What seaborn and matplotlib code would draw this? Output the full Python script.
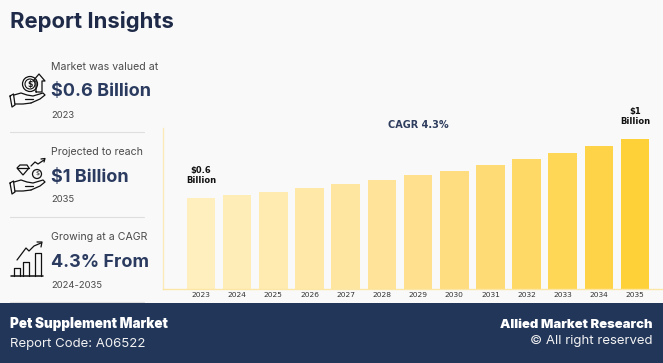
import matplotlib
matplotlib.use('Agg')
import matplotlib.pyplot as plt
from matplotlib.patches import Rectangle, Circle, Polygon
import pandas as pd
import seaborn as sns

years = ['2023','2024','2025','2026','2027','2028','2029','2030','2031','2032','2033','2034','2035']
values = [0.607,0.625,0.647,0.673,0.70,0.727,0.758,0.789,0.825,0.865,0.905,0.95,1.0]
bar_colors = ['#FFEEBE','#FFEDB8','#FFEAB0','#FFE8A8','#FEE6A0','#FEE398','#FEE08E','#FEDD80','#FEDB74','#FED966','#FED757','#FED348','#FED139']
bar_labels = {'2023':'$0.6\nBillion','2035':'$1\nBillion'}
cagr_text = 'CAGR 4.3%'

insight_top = ['Market was valued at','Projected to reach','Growing at a CAGR']
insight_big = ['$0.6 Billion','$1 Billion','4.3% From']
insight_low = ['2023','2035','2024-2035']

BG = '#F9F9FA'
NAVY = '#22365A'
TEXT = '#4A4A4A'
HEAD = '#1E2A47'

sns.set_theme(style='white')
plt.rcParams['font.family'] = ['Inter','DejaVu Sans']

fig = plt.figure(figsize=(6.63,3.63), dpi=100, facecolor=BG)

# chart axes, placed in pixels
W, H = 663, 363
ax = fig.add_axes([163/W, 1-288.7/H, 500/W, (288.7-128)/H], facecolor=BG)
df = pd.DataFrame({'year':years,'value':values})
sns.barplot(data=df, x='year', y='value', hue='year', palette=bar_colors, legend=False,
            width=0.79, saturation=1, linewidth=0, edgecolor='none', ax=ax)
ax.set_xlim(-1.05,12.77)
ax.set_ylim(0,160.7/149.7)
ax.set_xlabel('')
ax.set_ylabel('')
ax.set_yticks([])
ax.tick_params(axis='x', length=0, pad=2.5, labelsize=5.4, labelcolor='#333333')
for lab in ax.get_xticklabels():
    lab.set_family('DejaVu Sans')
sns.despine(ax=ax)
ax.spines['left'].set_color('#FBEBB8')
ax.spines['bottom'].set_color('#FBE6A6')
ax.spines['left'].set_linewidth(1)
ax.spines['bottom'].set_linewidth(1)
for i, y in enumerate(years):
    if y in bar_labels:
        ax.annotate(bar_labels[y], (i, values[i]), xytext=(0,9.5), textcoords='offset points',
                    ha='center', va='bottom', fontsize=6, fontweight='bold', color='#111111',
                    family='DejaVu Sans', linespacing=1.05, annotation_clip=False)

# overlay in pixel coordinates for side panel, footer and icons
ov = fig.add_axes([0,0,1,1], facecolor='none')
ov.set_xlim(0,W)
ov.set_ylim(H,0)
ov.axis('off')

ov.text(418,124.5,cagr_text,ha='center',va='center',fontsize=7,fontweight='bold',color='#2F3E5E',family='DejaVu Sans')
ov.text(10,22,'Report Insights',ha='left',va='center',fontsize=15.9,fontweight='bold',color=HEAD)

ys_top = [67,152,237]
ys_big = [92,177,262.5]
ys_low = [115,200,285.5]
for top, big, low, y1, y2, y3 in zip(insight_top,insight_big,insight_low,ys_top,ys_big,ys_low):
    ov.text(51,y1,top,ha='left',va='center',fontsize=7.6,color=TEXT)
    ov.text(51,y2,big,ha='left',va='center',fontsize=13,fontweight='bold',color='#2A3B5F')
    ov.text(51,y3,low,ha='left',va='center',fontsize=6.8,color=TEXT)
for y in [132,217,302]:
    ov.plot([10,144],[y,y],color='#DEDEDE',lw=0.8)

ov.add_patch(Rectangle((0,303),W,60,color=NAVY,lw=0,zorder=3))
ov.text(10,324,'Pet Supplement Market',ha='left',va='center',fontsize=9.7,fontweight='black',color='white',zorder=4)
ov.text(10,344,'Report Code: A06522',ha='left',va='center',fontsize=9.5,color='#F2F2F2',zorder=4)
ov.text(653,324.5,'Allied Market Research',ha='right',va='center',fontsize=9.4,fontweight='black',color='white',zorder=4)
ov.text(653,341,'© All right reserved',ha='right',va='center',fontsize=9.5,color='#F2F2F2',zorder=4)

# icons
k = dict(color='#111111',lw=0.9,solid_capstyle='round')
def hand(x,y):
    ov.plot([x,x+3.5,x+5,x+2,x],[y,y-2,y+9,y+11,y],**k)
    ov.plot([x+4,x+11,x+17,x+23,x+33,x+35,x+30,x+21],[y-1,y-3,y-1,y,y-3,y-1,y+3,y+7],**k)
    ov.plot([x+21,x+13,x+5],[y+7,y+8,y+8],**k)
    ov.plot([x+15,x+23],[y+2.5,y+2.5],**k)

# coin and arrow
hand(10,96)
ov.add_patch(Circle((30,84),7.5,fill=False,ec='#111111',lw=0.9))
ov.add_patch(Circle((30,84),5,fill=False,ec='#111111',lw=0.8))
ov.text(30,84,'$',ha='center',va='center',fontsize=5.5,fontweight='bold',color='#111111',family='DejaVu Sans')
ov.plot([36,36,33,39,45,42,42,36],[92,81,81,74,81,81,92,92],**k)

# gems and trend
hand(10,183)
ov.add_patch(Polygon([(17,168),(20,165),(27,165),(29,168),(23,175)],fill=False,ec='#111111',lw=0.9))
ov.plot([17,29],[168,168],**k)
ov.add_patch(Circle((37,174),4.5,fill=False,ec='#111111',lw=0.9))
ov.text(37,174,'$',ha='center',va='center',fontsize=4.5,color='#111111',family='DejaVu Sans')
ov.plot([31,35,38,44],[166,162,164,160],**k)
ov.plot([41,45,44],[159,158.5,162],**k)

# growth chart
ov.plot([11,43],[276,276],color='#111111',lw=1.1)
for x0, top in [(14,268),(23,262),(35,253)]:
    wd = 6 if x0<30 else 5.5
    ov.plot([x0,x0,x0+wd,x0+wd],[276,top,top,276],**k)
ov.plot([17,26,29,34,41],[260,248,251,246,243],**k)
ov.plot([37,42,41],[242,242,247],**k)

fig.savefig('out.png',dpi=100,facecolor=BG)
